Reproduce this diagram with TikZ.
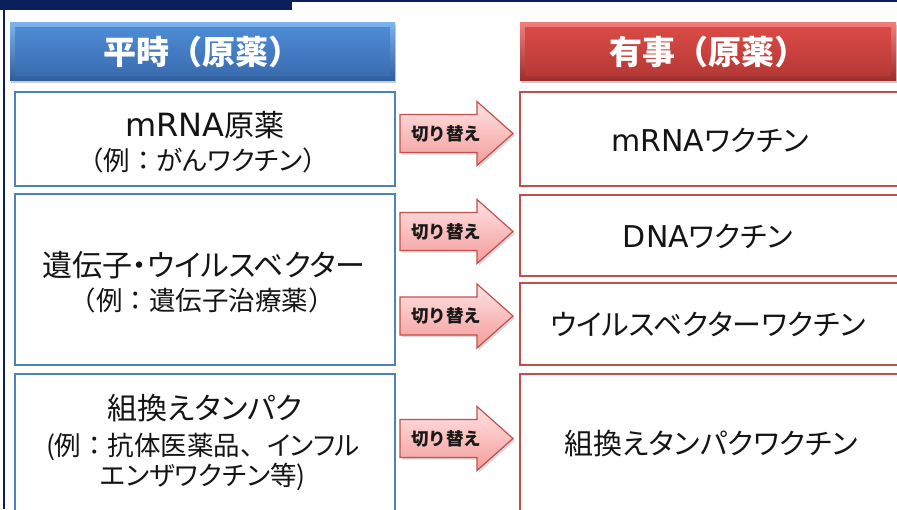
\documentclass[tikz,border=0pt]{standalone}
\usepackage{fontspec}
\usetikzlibrary{shadows}
\newfontfamily\jp{Noto Sans CJK JP}
\newfontfamily\jpp[RawFeature=+palt]{Noto Sans CJK JP}
\newfontfamily\lat{DejaVu Sans}
\definecolor{navy}{HTML}{0B1F5C}
\definecolor{bbord}{HTML}{4F81BD}
\definecolor{rbord}{HTML}{C0504D}
\definecolor{btop}{HTML}{7DB4F0}
\definecolor{bbot}{HTML}{2E5E9E}
\definecolor{bmidt}{HTML}{4E8BD4}
\definecolor{bmidb}{HTML}{3A6DB0}
\definecolor{rtop}{HTML}{F27F7B}
\definecolor{rbot}{HTML}{9E2E2C}
\definecolor{rmidt}{HTML}{DA4A46}
\definecolor{rmidb}{HTML}{B63936}
\definecolor{arrtop}{HTML}{FFE2E2}
\definecolor{arrbot}{HTML}{F39C9B}
\begin{document}
\begin{tikzpicture}[x=1pt,y=-1pt,
  hdrtext/.style={font=\jp\bfseries\fontsize{33}{38}\selectfont, text=white, inner sep=0pt},
  bbox/.style={draw=bbord, line width=2pt, fill=white},
  rbox/.style={draw=rbord, line width=2pt, fill=white},
  maintxt/.style={font=\jpp\fontsize{30}{36}\selectfont, text=black!92, inner sep=0pt},
  rtxt/.style={font=\jpp\fontsize{29}{35}\selectfont, text=black!92, inner sep=0pt},
  subtxt/.style={font=\jpp\fontsize{26.5}{31}\selectfont, text=black!92, inner sep=0pt},
  sarrow/.style={draw=rbord, line width=1.2pt, top color=arrtop, bottom color=arrbot,
     drop shadow={opacity=0.3, shadow xshift=2pt, shadow yshift=-2pt}},
  swlbl/.style={font=\jp\bfseries\fontsize{17.5}{21}\selectfont, text=black!90, inner sep=0pt},
  hshadow/.style={drop shadow={opacity=0.4, shadow xshift=1pt, shadow yshift=-3pt}}]
\clip (0,0) rectangle (897,509);
\fill[white] (0,0) rectangle (897,509);
% frame
\fill[navy] (0,0) rectangle (292,10);
\draw[navy, line width=2pt] (292,1) -- (897,1);
\draw[navy, line width=2pt] (3.5,10) -- (3.5,509);
% headers
\path[hshadow, top color=btop, bottom color=bbot] (10,22) rectangle (395,80);
\shade[top color=bmidt, bottom color=bmidb] (15,27) rectangle (390,75);
\node[hdrtext] (h1) at (202.5,52) {平時（原薬）};
\path[hshadow, top color=rtop, bottom color=rbot] (520,22) rectangle (896,80);
\shade[top color=rmidt, bottom color=rmidb] (525,27) rectangle (891,75);
\node[hdrtext] (h2) at (708,52) {有事（原薬）};
% left boxes
\draw[bbox] (15,92) rectangle (395,186);
\draw[bbox] (15,194) rectangle (395,365);
\draw[bbox] (15,374) rectangle (395,520);
% right boxes
\draw[rbox] (520,92) rectangle (910,186);
\draw[rbox] (520,194.5) rectangle (910,276);
\draw[rbox] (520,283) rectangle (910,365);
\draw[rbox] (520,374) rectangle (910,520);
% left texts
\node[maintxt] (l1a) at (205,125) {{\lat\fontsize{32}{36}\selectfont mRNA}原薬};
\node[subtxt] (l1b) at (203,160) {{\jp （例：}がんワクチン{\jp ）}};
\node[maintxt] (l2a) at (204,265) {遺伝子・ウイルスベクター};
\node[subtxt] (l2b) at (202,300) {{\jp （例：}遺伝子治療薬{\jp ）}};
\node[maintxt] (l3a) at (205,408) {組換えタンパク};
\node[subtxt] (l3b) at (203,447) {(例{\jp ：}抗体医薬品{\jp 、}インフル};
\node[subtxt] (l3c) at (203,477) {エンザワクチン等)};
% right texts
\node[rtxt] (r1) at (710,140) {{\lat\fontsize{30}{35}\selectfont mRNA}ワクチン};
\node[rtxt] (r2) at (708,236) {{\lat\fontsize{30}{35}\selectfont DNA}ワクチン};
\node[rtxt] (r3) at (708,324) {ウイルスベクターワクチン};
\node[rtxt] (r4) at (711,443) {組換えタンパクワクチン};
% switch arrows
\foreach \y [count=\i] in {133.5,231.5,316,438.5} {
  \path[sarrow] (400,\y-19) -- (477,\y-19) -- (477,\y-32) -- (513,\y)
     -- (477,\y+32) -- (477,\y+19) -- (400,\y+19) -- cycle;
  \node[swlbl] (sw\i) at (446,\y) {切り替え};
}
\end{tikzpicture}
\end{document}
